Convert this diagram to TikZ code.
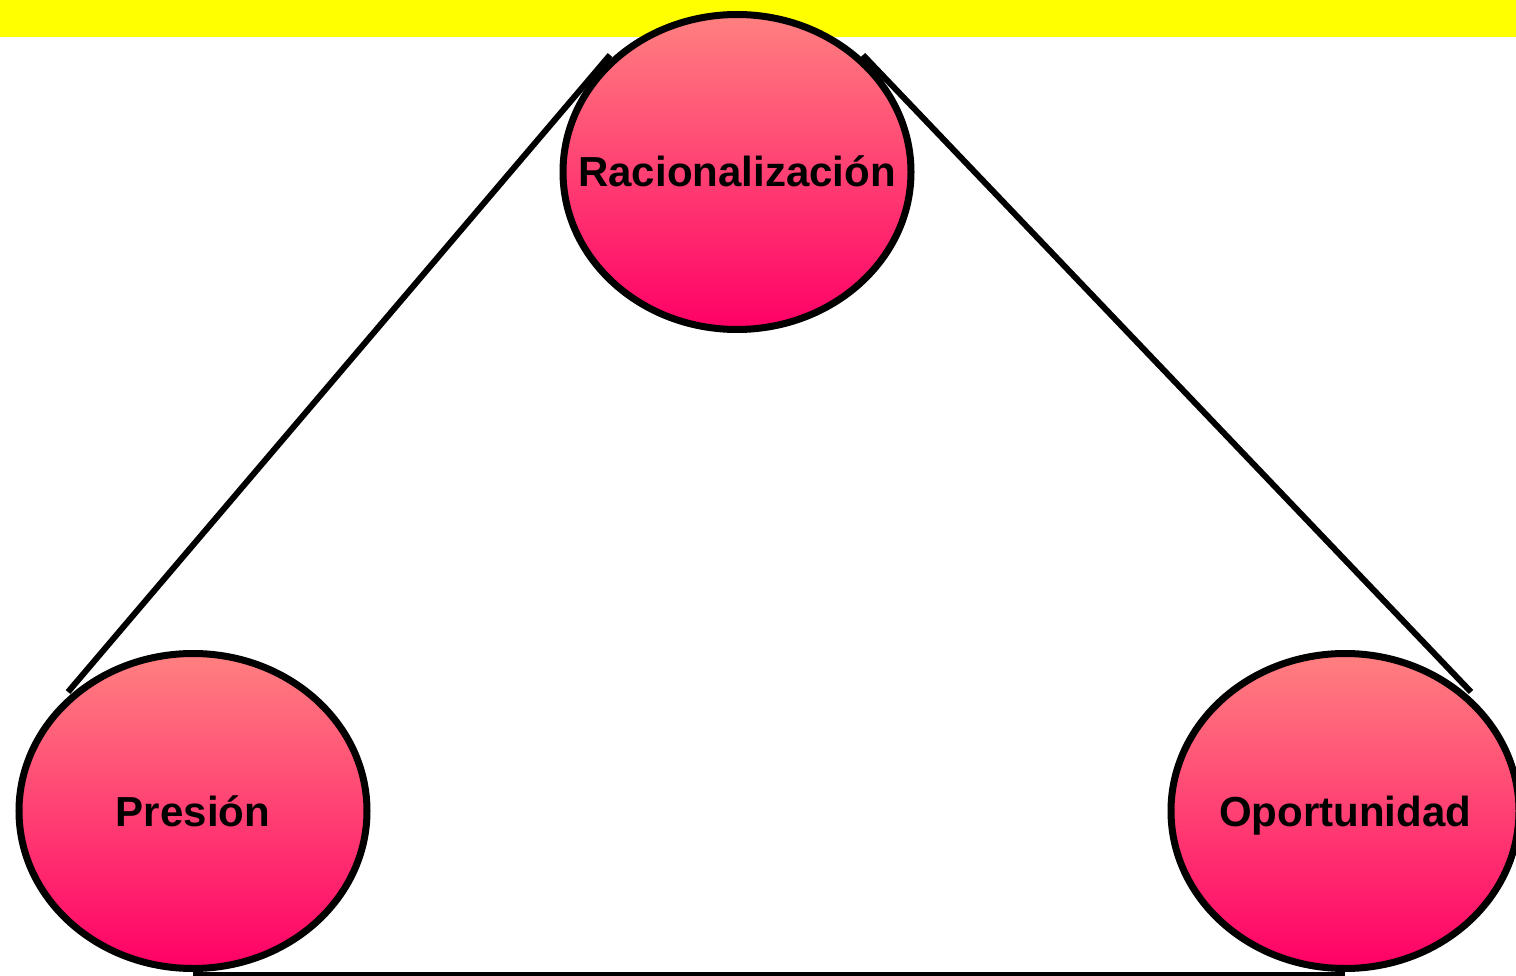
\documentclass[tikz,border=0pt]{standalone}
\usepackage{fontspec}
\setmainfont{Liberation Sans}
\usetikzlibrary{shapes.geometric}
\definecolor{bandyellow}{RGB}{255,255,0}
\definecolor{pinktop}{RGB}{255,128,128}
\definecolor{pinkbottom}{RGB}{255,0,102}
% zero-width box keeps the label from enlarging the ellipse
\newcommand{\factorlabel}[1]{\makebox[0pt][c]{#1}}
\tikzset{
  factor/.style={ellipse, draw=black, line width=7pt,
    top color=pinktop, bottom color=pinkbottom,
    minimum width=348pt, minimum height=315pt, inner sep=0pt,
    font=\fontsize{42}{50}\selectfont\bfseries,
    text height=30pt, text depth=0pt},
  side/.style={draw=black, line width=6pt},
  base/.style={draw=black, line width=5pt}
}
\begin{document}
\begin{tikzpicture}[x=1pt,y=-1pt]
  \useasboundingbox (0,0) rectangle (1516,976);
  \fill[white] (0,0) rectangle (1516,976);
  \fill[bandyellow] (0,0) rectangle (1516,37);

  % triangle sides, drawn beneath the ellipses
  \coordinate (lowL) at (68,692);
  \coordinate (topL) at (610,55);
  \coordinate (topR) at (863,55);
  \coordinate (lowR) at (1471,692);
  \coordinate (baseL) at (193,974);
  \coordinate (baseR) at (1345,974);
  \draw[side] (lowL) -- (topL);
  \draw[side] (topR) -- (lowR);
  \draw[base] (baseL) -- (baseR);

  \node[factor] (rac) at (737,172) {\factorlabel{Racionalización}};
  \node[factor] (pre) at (193,811) {\factorlabel{Presión}};
  \node[factor] (opo) at (1345,811) {\factorlabel{Oportunidad}};
\end{tikzpicture}
\end{document}
